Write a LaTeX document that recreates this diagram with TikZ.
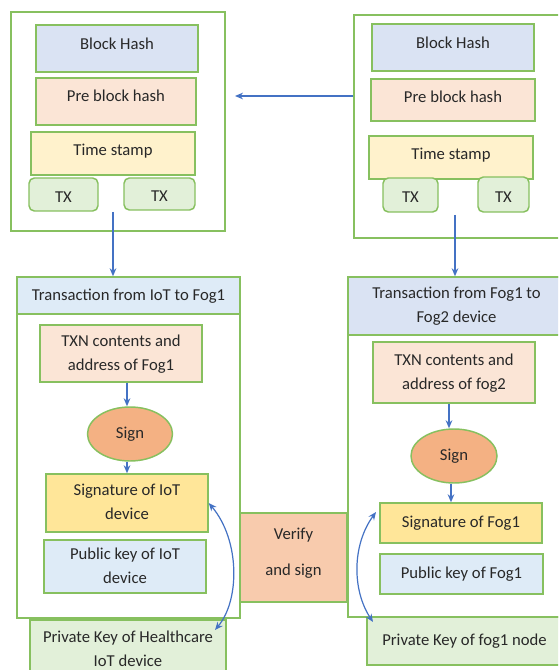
\documentclass[tikz,border=0pt]{standalone}
\usepackage{fontspec}
\setmainfont{Carlito}
\usetikzlibrary{arrows.meta,shapes.geometric}
\definecolor{gborder}{RGB}{135,192,95}
\definecolor{bluefill}{RGB}{218,227,243}
\definecolor{lbluefill}{RGB}{222,235,247}
\definecolor{pinkfill}{RGB}{251,229,214}
\definecolor{yellowfill}{RGB}{255,242,204}
\definecolor{greenfill}{RGB}{226,240,217}
\definecolor{signfill}{RGB}{244,177,131}
\definecolor{sigfill}{RGB}{255,230,153}
\definecolor{verifyfill}{RGB}{248,203,173}
\definecolor{arrowblue}{RGB}{68,114,196}
\definecolor{textgray}{RGB}{40,40,40}
\newcommand{\ctext}[1]{\begin{tabular}{@{}c@{}}#1\end{tabular}}
\tikzset{
  sz/.style 2 args={minimum width=#1*0.75pt, minimum height=#2*0.75pt},
  box/.style={draw=gborder, line width=1.1pt, inner sep=0pt, anchor=center,
    text=textgray, font=\fontsize{12.5}{18}\selectfont},
  frame/.style={draw=gborder, line width=1.1pt, inner sep=0pt, fill=white},
  txbox/.style={box, fill=greenfill, rounded corners=4pt},
  arr/.style={draw=arrowblue, line width=0.9pt, -{Stealth[length=6pt,width=5pt]}},
  darr/.style={draw=arrowblue, line width=0.9pt, {Stealth[length=6pt,width=5pt]}-{Stealth[length=6pt,width=5pt]}},
}
\begin{document}
\begin{tikzpicture}[x=0.75pt,y=-0.75pt]
\useasboundingbox (0,0) rectangle (558,670);
\clip (0,0) rectangle (558,670);
% ---------- left block ----------
\node[frame, sz={214}{219}] (lblock) at (118,121.5) {};
\node[box, fill=bluefill, sz={162}{47}] (lbh) at (117,48.5) {\ctext{Block Hash\\[6pt]}};
\node[box, fill=pinkfill, sz={160}{47}] (lpbh) at (116,101.5) {\ctext{Pre block hash\\[7.5pt]}};
\node[box, fill=yellowfill, sz={164}{43}] (lts) at (113,153.5) {\ctext{Time stamp\\[4.5pt]}};
\node[txbox, sz={69}{33}] (ltx1) at (63.5,194.5) {\ctext{\rule{0pt}{17pt}TX}};
\node[txbox, sz={71}{32}] (ltx2) at (159.5,194) {\ctext{\rule{0pt}{17pt}TX}};
% ---------- right block ----------
\node[frame, sz={211}{223}] (rblock) at (459.5,126.5) {};
\node[box, fill=bluefill, sz={162}{47}] (rbh) at (453,47.5) {\ctext{Block Hash\\[6pt]}};
\node[box, fill=pinkfill, sz={164}{42}] (rpbh) at (453,100) {\ctext{Pre block hash\\[3pt]}};
\node[box, fill=yellowfill, sz={164}{43}] (rts) at (451,157.5) {\ctext{Time stamp\\[4.5pt]}};
\node[txbox, sz={55}{34}] (rtx1) at (410.5,195) {\ctext{\rule{0pt}{17pt}TX}};
\node[txbox, sz={51}{35}] (rtx2) at (503.5,194.5) {\ctext{\rule{0pt}{17pt}TX}};
% block-to-block arrow
\coordinate (ha) at (235,96);
\draw[arr] (rblock.west |- ha) -- (ha);
% ---------- left transaction panel ----------
\node[frame, sz={223}{341}] (lpanel) at (128.5,447.5) {};
\node[box, fill=lbluefill, sz={223}{37}] (lhdr) at (128.5,295.5) {\ctext{Transaction from IoT to Fog1}};
\node[box, fill=pinkfill, sz={162}{57}] (ltxn) at (121,353.5) {\ctext{TXN contents and\\address of Fog1}};
\node[box, fill=signfill, ellipse, sz={85}{54}] (lsign) at (130,434) {\ctext{Sign}};
\node[box, fill=sigfill, sz={162}{58}] (lsig) at (127,503) {\ctext{Signature of IoT\\device}};
\node[box, fill=lbluefill, sz={162}{53}] (lpub) at (125,566.5) {\ctext{Public key of IoT\\device}};
\node[box, fill=greenfill, sz={196}{60}] (lpriv) at (128,650) {\ctext{Private Key of Healthcare\\IoT device}};
% ---------- verify ----------
\node[box, fill=verifyfill, sz={107}{89}, font=\fontsize{12.5}{27}\selectfont] (verify) at (293.5,557.5) {\ctext{Verify\\and sign\\[11pt]}};
% ---------- right transaction panel ----------
\node[frame, sz={217}{340}] (rpanel) at (456.5,447) {};
\node[box, fill=bluefill, sz={217}{58}] (rhdr) at (456.5,306) {\ctext{Transaction from Fog1 to\\Fog2 device}};
\node[box, fill=pinkfill, sz={162}{61}] (rtxn) at (454,372.5) {\ctext{TXN contents and\\address of fog2}};
\node[box, fill=signfill, ellipse, sz={86}{54}] (rsign) at (454,456) {\ctext{Sign}};
\node[box, fill=sigfill, sz={162}{40}] (rsig) at (461,523) {\ctext{Signature of Fog1}};
\node[box, fill=lbluefill, sz={163}{40}] (rpub) at (461.5,574) {\ctext{Public key of Fog1}};
\node[box, fill=greenfill, sz={195}{48}] (rpriv) at (464.5,641) {\ctext{Private Key of fog1 node}};
% ---------- vertical arrows ----------
\coordinate (ls) at (113,212);
\draw[arr] (ls) -- (lhdr.north -| ls);
\coordinate (rs) at (455,215);
\draw[arr] (rs) -- (rhdr.north -| rs);
\coordinate (la) at (127,0);
\draw[arr] (ltxn.south -| la) -- (lsign.north -| la);
\draw[arr] (lsign.south -| la) -- (lsig.north -| la);
\coordinate (ra) at (449,0);
\draw[arr] (rtxn.south -| ra) -- (rsign.north -| ra);
\coordinate (rb) at (451,0);
\draw[arr] (rsign.south -| rb) -- (rsig.north -| rb);
% ---------- curved double arrows ----------
\coordinate (lc) at (215,630);
\draw[darr] (lsig.east) .. controls (240,540) and (240,600) .. (lc);
\coordinate (rc1) at (376,512);
\coordinate (rc2) at (373,622);
\draw[darr] (rc1) .. controls (352,545) and (352,590) .. (rc2);
\end{tikzpicture}
\end{document}
